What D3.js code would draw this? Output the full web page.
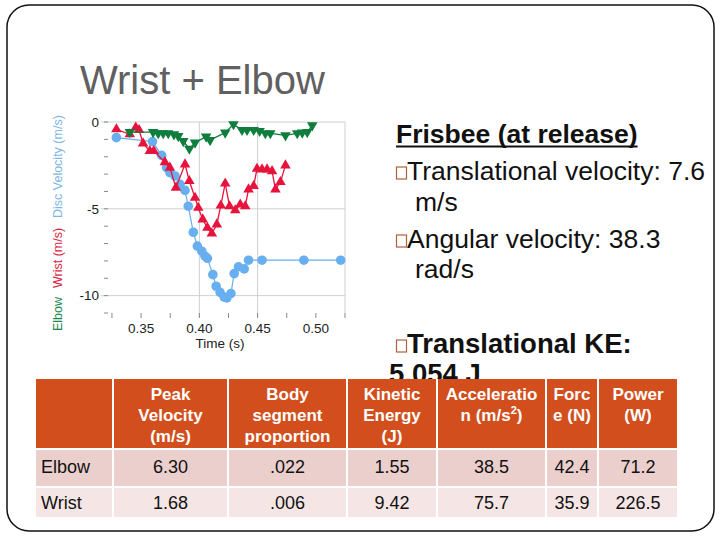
<!DOCTYPE html>
<html>
<head>
<meta charset="utf-8">
<script src="https://cdn.jsdelivr.net/npm/d3@7"></script>
<style>
  body { margin: 0; background: #fff; }
  svg { display: block; font-family: "Liberation Sans", Arial, sans-serif; }
</style>
</head>
<body>
<div class="slide"></div>
<script>
// disc velocity (blue circles)
const discTime = [0.3288, 0.3598, 0.3676, 0.3719, 0.3747, 0.3791, 0.3834, 0.3877, 0.3905, 0.3948, 0.3983, 0.4021, 0.4049, 0.4069, 0.4116, 0.4144, 0.4178, 0.4213, 0.4236, 0.4271, 0.4299, 0.4336, 0.4385, 0.4422, 0.4538, 0.4897, 0.5213];
const discVel = [-0.90, -1.13, -1.92, -2.63, -2.92, -3.11, -3.59, -3.94, -4.85, -6.35, -7.15, -7.44, -7.73, -7.85, -8.79, -9.46, -9.81, -10.08, -10.13, -9.88, -8.73, -8.34, -8.46, -7.96, -7.96, -7.96, -7.96];

// wrist (red up triangles)
const wristTime = [0.3288, 0.3403, 0.3454, 0.3483, 0.3517, 0.3575, 0.3609, 0.3704, 0.3747, 0.3799, 0.3877, 0.3914, 0.3963, 0.3991, 0.4029, 0.4069, 0.4107, 0.4150, 0.4184, 0.4222, 0.4259, 0.4308, 0.4351, 0.4394, 0.4422, 0.4466, 0.4495, 0.4538, 0.4581, 0.4624, 0.4653, 0.4696, 0.4739];
const wristVel = [-0.42, -0.71, -0.32, -0.46, -1.23, -1.67, -1.67, -2.31, -2.63, -3.79, -2.44, -3.40, -4.36, -4.94, -5.61, -6.09, -6.42, -5.90, -4.81, -3.54, -4.85, -5.08, -4.75, -4.85, -3.88, -3.69, -2.69, -2.73, -2.73, -2.83, -3.88, -3.46, -2.50];

// elbow (green down triangles)
const elbowTime = [0.3403, 0.3603, 0.3647, 0.3690, 0.3733, 0.3782, 0.3819, 0.3862, 0.3914, 0.3963, 0.4058, 0.4092, 0.4222, 0.4293, 0.4366, 0.4409, 0.4466, 0.4517, 0.4566, 0.4609, 0.4739, 0.4840, 0.4883, 0.4926, 0.4969];
const elbowVel = [-0.58, -0.58, -0.65, -0.65, -0.65, -0.71, -0.81, -1.10, -1.54, -1.19, -0.84, -1.04, -0.61, -0.13, -0.46, -0.46, -0.46, -0.52, -0.65, -0.65, -0.77, -0.65, -0.61, -0.58, -0.19];

const xTicks = [0.35, 0.40, 0.45, 0.50];
const yTicks = [0, -5, -10];

// table
const tableHeaders = [[], ['Peak', 'Velocity', '(m/s)'], ['Body', 'segment', 'proportion'], ['Kinetic', 'Energy', '(J)'], ['Acceleratio', 'n (m/s²)'], ['Forc', 'e (N)'], ['Power', '(W)']];
const rowLabels = ['Elbow', 'Wrist'];
const rowValues = [
    ['6.30', '.022', '1.55', '38.5', '42.4', '71.2'],
    ['1.68', '.006', '9.42', '75.7', '35.9', '226.5'],
];

const svgWidth = 720;
const svgHeight = 540;

const svg = d3
    .select('.slide')
    .append('svg')
    .attr('width', svgWidth)
    .attr('height', svgHeight);

svg.append('rect').attr('width', svgWidth).attr('height', svgHeight).attr('fill', '#fff');

// clip for the text that runs under the table
svg.append('defs')
    .append('clipPath')
    .attr('id', 'above-table')
    .append('rect')
    .attr('x', 0)
    .attr('y', 0)
    .attr('width', svgWidth)
    .attr('height', 379);

// slide frame
svg.append('rect')
    .attr('x', 7)
    .attr('y', 5)
    .attr('width', 707)
    .attr('height', 526)
    .attr('rx', 22)
    .attr('fill', 'none')
    .attr('stroke', '#111')
    .attr('stroke-width', 1.5);

svg.append('text')
    .attr('x', 80)
    .attr('y', 94)
    .attr('font-size', 40)
    .attr('fill', '#606060')
    .text('Wrist + Elbow');

// ---- chart ----
const plot = { left: 108, right: 345, top: 122, bottom: 313 };
const xScale = d3.scaleLinear().domain([0.3216, 0.525]).range([plot.left, plot.right]);
const yScale = d3.scaleLinear().domain([-11, 0]).range([plot.bottom, plot.top]);

const chart = svg.append('g').attr('class', 'chart');
const gridColor = '#cfcfcf';

// horizontal gridlines at major ticks (extend a bit left as tick)
chart.selectAll('line.hgrid')
    .data(yTicks)
    .join('line')
    .attr('class', 'hgrid')
    .attr('x1', plot.left - 7)
    .attr('x2', plot.right)
    .attr('y1', (d) => yScale(d))
    .attr('y2', (d) => yScale(d))
    .attr('stroke', gridColor);

// vertical gridlines
chart.selectAll('line.vgrid')
    .data([0.40, 0.45])
    .join('line')
    .attr('x1', (d) => xScale(d))
    .attr('x2', (d) => xScale(d))
    .attr('y1', plot.top)
    .attr('y2', plot.bottom + 5)
    .attr('stroke', gridColor);

// right border
chart.append('line')
    .attr('x1', plot.right)
    .attr('x2', plot.right)
    .attr('y1', plot.top)
    .attr('y2', plot.bottom)
    .attr('stroke', gridColor);

// minor ticks
chart.selectAll('line.yminor')
    .data(d3.range(-11, 1))
    .join('line')
    .attr('x1', plot.left - 4)
    .attr('x2', plot.left)
    .attr('y1', (d) => yScale(d))
    .attr('y2', (d) => yScale(d))
    .attr('stroke', '#888');

chart.selectAll('line.xminor')
    .data(d3.range(0.325, 0.53, 0.025))
    .join('line')
    .attr('x1', (d) => xScale(d))
    .attr('x2', (d) => xScale(d))
    .attr('y1', plot.bottom)
    .attr('y2', plot.bottom + 5)
    .attr('stroke', '#888');

// tick labels (plain hyphen minus like the original)
chart.selectAll('text.ylab')
    .data(yTicks)
    .join('text')
    .attr('x', plot.left - 9)
    .attr('y', (d) => yScale(d))
    .attr('dy', '0.35em')
    .attr('text-anchor', 'end')
    .attr('font-size', 13.5)
    .attr('fill', '#222')
    .text((d) => String(d));

chart.selectAll('text.xlab')
    .data(xTicks)
    .join('text')
    .attr('x', (d) => xScale(d))
    .attr('y', 333)
    .attr('text-anchor', 'middle')
    .attr('font-size', 13.5)
    .attr('fill', '#222')
    .text((d) => d3.format('.2f')(d));

chart.append('text')
    .attr('x', 220)
    .attr('y', 348)
    .attr('text-anchor', 'middle')
    .attr('font-size', 13.5)
    .attr('fill', '#222')
    .text('Time (s)');

// rotated y label in three colours
const yLabels = [
    { text: 'Elbow', y: 331, color: '#17884a' },
    { text: 'Wrist (m/s)', y: 288, color: '#d9263f' },
    { text: 'Disc Velocity (m/s)', y: 218, color: '#7db8e2' },
];
chart.selectAll('text.ytitle')
    .data(yLabels)
    .join('text')
    .attr('transform', (d) => `translate(61.5,${d.y}) rotate(-90)`)
    .attr('font-size', 12.5)
    .attr('fill', (d) => d.color)
    .text((d) => d.text);

const line = d3.line().x((d) => xScale(d.t)).y((d) => yScale(d.v));
const zip = (ts, vs) => ts.map((t, i) => ({ t: t, v: vs[i] }));

const series = [
    { key: 'disc', data: zip(discTime, discVel), color: '#68aff0', width: 1.2, shape: 'circle' },
    { key: 'wrist', data: zip(wristTime, wristVel), color: '#e8133c', width: 1.3, shape: 'up' },
    { key: 'elbow', data: zip(elbowTime, elbowVel), color: '#0f7d3c', width: 1.3, shape: 'down' },
];

series.forEach((s) => {
    const g = chart.append('g').attr('class', s.key);
    g.append('path')
        .attr('d', line(s.data))
        .attr('fill', 'none')
        .attr('stroke', s.color)
        .attr('stroke-width', s.width);

    if (s.shape === 'circle') {
        g.selectAll('circle')
            .data(s.data)
            .join('circle')
            .attr('cx', (d) => xScale(d.t))
            .attr('cy', (d) => yScale(d.v))
            .attr('r', 4.8)
            .attr('fill', s.color);
    } else {
        const tri = d3.symbol().type(d3.symbolTriangle).size(48);
        g.selectAll('path.mark')
            .data(s.data)
            .join('path')
            .attr('class', 'mark')
            .attr('d', tri)
            .attr('transform', (d) =>
                `translate(${xScale(d.t)},${yScale(d.v)})` + (s.shape === 'down' ? ' rotate(180)' : '')
            )
            .attr('fill', s.color);
    }
});

// ---- right-hand text ----
const textBlock = svg.append('g').attr('class', 'notes').attr('font-size', 26.5).attr('fill', '#111');

const heading = textBlock.append('text')
    .attr('x', 396)
    .attr('y', 143)
    .attr('font-weight', 'bold')
    .text('Frisbee (at release)');
textBlock.append('line')
    .attr('x1', 396)
    .attr('x2', 396 + heading.node().getComputedTextLength())
    .attr('y1', 146.5)
    .attr('y2', 146.5)
    .attr('stroke', '#111')
    .attr('stroke-width', 2);

const noteLines = [
    { text: 'Translational velocity: 7.6', x: 407, y: 180, bullet: true, bold: false },
    { text: 'm/s', x: 415, y: 211, bullet: false, bold: false },
    { text: 'Angular velocity: 38.3', x: 407, y: 248, bullet: true, bold: false },
    { text: 'rad/s', x: 415, y: 278, bullet: false, bold: false },
    { text: 'Translational KE:', x: 407, y: 353, bullet: true, bold: true },
    { text: '5.054 J', x: 389, y: 383, bullet: false, bold: true, clip: true },
];

textBlock.selectAll('text.note')
    .data(noteLines)
    .join('text')
    .attr('class', 'note')
    .attr('x', (d) => d.x)
    .attr('y', (d) => d.y)
    .attr('font-size', (d) => (d.bold ? 27.5 : null))
    .attr('font-weight', (d) => (d.bold ? 'bold' : 'normal'))
    .attr('clip-path', (d) => (d.clip ? 'url(#above-table)' : null))
    .text((d) => d.text);

textBlock.selectAll('rect.bullet')
    .data(noteLines.filter((d) => d.bullet))
    .join('rect')
    .attr('class', 'bullet')
    .attr('x', 396.5)
    .attr('y', (d) => d.y - 13)
    .attr('width', 10)
    .attr('height', 12)
    .attr('fill', '#fff')
    .attr('stroke', '#b0603c')
    .attr('stroke-width', 1.2);

// ---- table ----
const colEdges = [36, 113, 228, 347, 437, 546, 598, 678];
const rowTops = [379, 450, 488];
const rowBottoms = [448, 486, 517];
const rowColors = ['#d24f1d', '#ebcfcd', '#f5e6e5'];

const table = svg.append('g').attr('class', 'table');

const cells = [];
for (let r = 0; r < 3; r++) {
    for (let c = 0; c < colEdges.length - 1; c++) {
        cells.push({ r: r, c: c });
    }
}

table.selectAll('rect.cell')
    .data(cells)
    .join('rect')
    .attr('class', 'cell')
    .attr('x', (d) => colEdges[d.c] + (d.c > 0 ? 1 : 0))
    .attr('y', (d) => rowTops[d.r])
    .attr('width', (d) => colEdges[d.c + 1] - colEdges[d.c] - (d.c > 0 ? 1 : 0) - 1)
    .attr('height', (d) => rowBottoms[d.r] - rowTops[d.r])
    .attr('fill', (d) => rowColors[d.r]);

// header text
const headerG = table.selectAll('text.head')
    .data(tableHeaders)
    .join('text')
    .attr('class', 'head')
    .attr('text-anchor', 'middle')
    .attr('font-size', 17)
    .attr('font-weight', 'bold')
    .attr('fill', '#fff');

headerG.each(function (lines, c) {
    const cx = (colEdges[c] + colEdges[c + 1]) / 2;
    lines.forEach((ln, i) => {
        const t = d3.select(this)
            .append('tspan')
            .attr('x', cx)
            .attr('y', 400 + i * 21);
        if (ln.indexOf('²') >= 0) {
            t.text(ln.replace('²)', ''));
            t.append('tspan').attr('font-size', 11).attr('dy', -7).text('2');
            t.append('tspan').attr('dy', 7).text(')');
        } else {
            t.text(ln);
        }
    });
});

// body rows
rowLabels.forEach((label, r) => {
    const baseY = r === 0 ? 473 : 509;
    table.append('text')
        .attr('x', 41)
        .attr('y', baseY)
        .attr('font-size', 18)
        .attr('fill', '#111')
        .text(label);

    table.selectAll(`text.val${r}`)
        .data(rowValues[r])
        .join('text')
        .attr('class', `val${r}`)
        .attr('x', (d, i) => (colEdges[i + 1] + colEdges[i + 2]) / 2)
        .attr('y', baseY)
        .attr('text-anchor', 'middle')
        .attr('font-size', 18)
        .attr('fill', '#111')
        .text((d) => d);
});
</script>
</body>
</html>
